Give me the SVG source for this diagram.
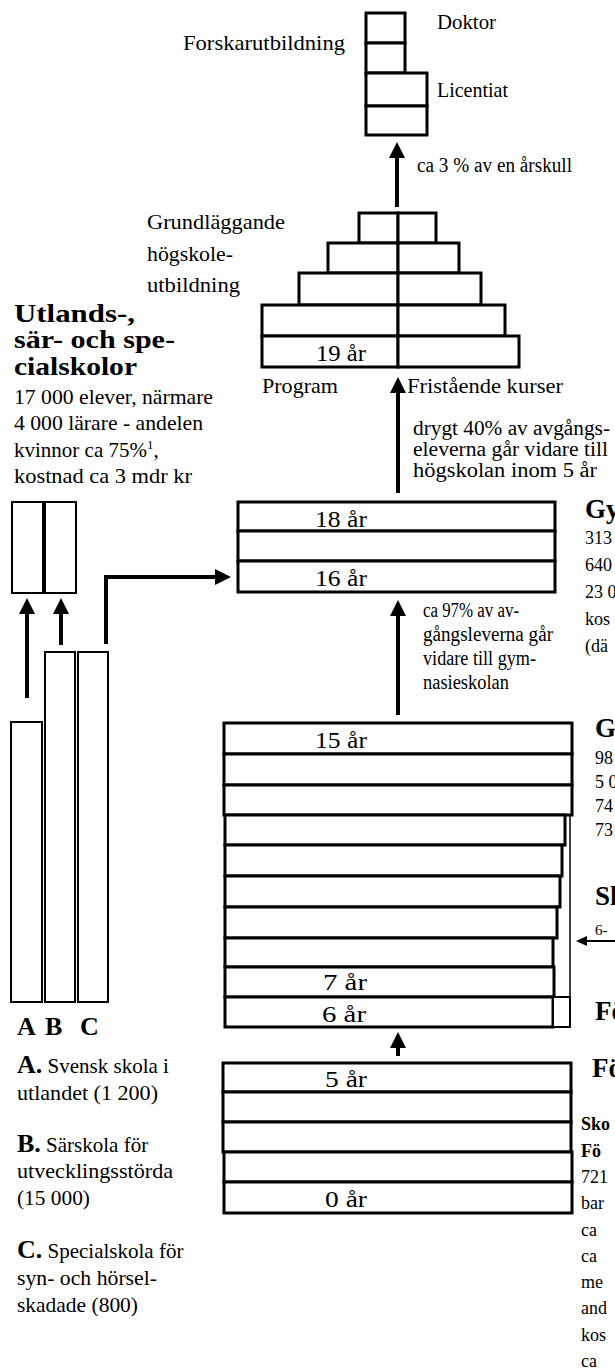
<svg xmlns="http://www.w3.org/2000/svg" width="615" height="1371" viewBox="0 0 615 1371">
<style>
text{font-family:"Liberation Serif","Times New Roman",serif;fill:#000}
rect{fill:#fff;stroke:#000;stroke-width:3}
rect.thin{stroke-width:2}
.lbl{font-size:22px}
.body{font-size:21px}
.sm{font-size:20px}
.age{font-size:23px}
.h{font-size:26px;font-weight:bold}
.rh{font-size:27px;font-weight:bold}
.rt{font-size:18px}
.rb{font-size:18px;font-weight:bold}
.lg{font-size:26px;font-weight:bold}
.arr{stroke:#000;stroke-width:4;fill:none}
.arrt{stroke:#000;stroke-width:2;fill:none}
</style>
<defs>
<marker id="ah" markerUnits="userSpaceOnUse" markerWidth="16" markerHeight="16" viewBox="0 0 16 16" refX="6" refY="8" orient="auto"><path d="M0,0L16,8L0,16z" fill="#000"/></marker>
<marker id="ahs" markerUnits="userSpaceOnUse" markerWidth="11" markerHeight="10" viewBox="0 0 11 10" refX="3" refY="5" orient="auto"><path d="M0,0L11,5L0,10z" fill="#000"/></marker>
</defs>

<g id="forskarutbildning">
<rect x="366" y="13" width="39" height="30"/>
<rect x="366" y="43" width="39" height="30"/>
<rect x="366" y="73" width="61" height="33"/>
<rect x="366" y="106" width="61" height="29"/>
<text class="lbl" x="437" y="29" textLength="59" lengthAdjust="spacingAndGlyphs">Doktor</text>
<text class="lbl" x="183" y="50" textLength="162" lengthAdjust="spacingAndGlyphs">Forskarutbildning</text>
<text class="lbl" x="437" y="97" textLength="71" lengthAdjust="spacingAndGlyphs">Licentiat</text>
</g>

<g id="hogskola">
<rect x="359" y="213" width="39" height="30"/>
<rect x="398" y="213" width="38" height="30"/>
<rect x="328" y="243" width="70" height="30"/>
<rect x="398" y="243" width="61" height="30"/>
<rect x="299" y="273" width="99" height="32"/>
<rect x="398" y="273" width="83" height="32"/>
<rect x="262" y="305" width="136" height="31"/>
<rect x="398" y="305" width="107" height="31"/>
<rect x="262" y="336" width="136" height="31"/>
<rect x="398" y="336" width="121" height="31"/>
<text class="age" x="316" y="361" textLength="50" lengthAdjust="spacingAndGlyphs">19 år</text>
<text class="lbl" x="147" y="229" textLength="138" lengthAdjust="spacingAndGlyphs">Grundläggande</text>
<text class="lbl" x="147" y="261" textLength="86" lengthAdjust="spacingAndGlyphs">högskole-</text>
<text class="lbl" x="147" y="292" textLength="93" lengthAdjust="spacingAndGlyphs">utbildning</text>
<text class="lbl" x="262" y="393" textLength="76" lengthAdjust="spacingAndGlyphs">Program</text>
<text class="lbl" x="407" y="393" textLength="156" lengthAdjust="spacingAndGlyphs">Fristående kurser</text>
</g>

<g id="gymnasieskola">
<rect x="238" y="502" width="317" height="29"/>
<rect x="238" y="531" width="317" height="30"/>
<rect x="238" y="561" width="317" height="31"/>
<text class="age" x="315" y="527" textLength="52" lengthAdjust="spacingAndGlyphs">18 år</text>
<text class="age" x="315" y="586" textLength="52" lengthAdjust="spacingAndGlyphs">16 år</text>
<text class="rh" x="585" y="518">Gy</text>
<text class="rt" x="585" y="544">313</text>
<text class="rt" x="585" y="571">640</text>
<text class="rt" x="585" y="598">23 0</text>
<text class="rt" x="585" y="625">kos</text>
<text class="rt" x="585" y="652">(dä</text>
</g>

<g id="grundskola">
<rect x="224" y="723" width="348" height="31"/>
<rect x="224" y="754" width="348" height="31"/>
<rect x="224" y="785" width="348" height="30"/>
<rect x="225" y="815" width="340" height="30"/>
<rect x="225" y="845" width="337" height="31"/>
<rect x="225" y="876" width="335" height="31"/>
<rect x="225" y="907" width="332" height="31"/>
<rect x="225" y="938" width="328" height="29"/>
<rect x="225" y="967" width="329" height="30"/>
<rect x="225" y="997" width="328" height="30"/>
<text class="age" x="315" y="748" textLength="52" lengthAdjust="spacingAndGlyphs">15 år</text>
<text class="age" x="323" y="990" textLength="44" lengthAdjust="spacingAndGlyphs">7 år</text>
<text class="age" x="322" y="1022" textLength="44" lengthAdjust="spacingAndGlyphs">6 år</text>
<text class="rh" x="595" y="737">G</text>
<text class="rt" x="595" y="764">98</text>
<text class="rt" x="595" y="788">5 0</text>
<text class="rt" x="595" y="812">74</text>
<text class="rt" x="595" y="836">73</text>
</g>

<g id="skolbarnsomsorg">
<line x1="570" y1="815" x2="570" y2="997" stroke="#000" stroke-width="1.5"/>
<text class="rh" x="595" y="905">Sk</text>
<text x="595" y="935" style="font-size:15px">6-</text>
</g>

<g id="forskoleklass">
<rect class="thin" x="553" y="997" width="17" height="30"/>
<text class="rh" x="595" y="1020">Fö</text>
</g>

<g id="forskola">
<rect x="223" y="1063" width="348" height="29"/>
<rect x="223" y="1092" width="348" height="30"/>
<rect x="223" y="1122" width="348" height="30"/>
<rect x="224" y="1152" width="348" height="30"/>
<rect x="224" y="1182" width="348" height="31"/>
<text class="age" x="325" y="1087" textLength="42" lengthAdjust="spacingAndGlyphs">5 år</text>
<text class="age" x="325" y="1207" textLength="42" lengthAdjust="spacingAndGlyphs">0 år</text>
<text class="rh" x="592" y="1077">Fö</text>
<text class="rb" x="581" y="1130">Sko</text>
<text class="rb" x="581" y="1157">Fö</text>
<text class="rt" x="581" y="1183">721</text>
<text class="rt" x="581" y="1209">bar</text>
<text class="rt" x="581" y="1236">ca</text>
<text class="rt" x="581" y="1262">ca</text>
<text class="rt" x="581" y="1288">me</text>
<text class="rt" x="581" y="1314">and</text>
<text class="rt" x="581" y="1341">kos</text>
<text class="rt" x="581" y="1367">ca</text>
</g>

<g id="utlands-sar-specialskolor">
<text class="h" x="14" y="322" textLength="121" lengthAdjust="spacingAndGlyphs">Utlands-,</text>
<text class="h" x="14" y="348" textLength="161" lengthAdjust="spacingAndGlyphs">sär- och spe-</text>
<text class="h" x="14" y="375" textLength="123" lengthAdjust="spacingAndGlyphs">cialskolor</text>
<text class="body" x="14" y="404" textLength="199" lengthAdjust="spacingAndGlyphs">17 000 elever, närmare</text>
<text class="body" x="14" y="430" textLength="189" lengthAdjust="spacingAndGlyphs">4 000 lärare - andelen</text>
<text class="body" x="14" y="457">kvinnor ca 75%<tspan style="font-size:13px" dy="-8">1</tspan><tspan dy="8">,</tspan></text>
<text class="body" x="14" y="483" textLength="178" lengthAdjust="spacingAndGlyphs">kostnad ca 3 mdr kr</text>
<rect class="thin" x="12" y="502" width="64" height="91"/>
<line x1="44" y1="502" x2="44" y2="593" stroke="#000" stroke-width="4"/>
</g>

<g id="bar-a"><rect class="thin" x="11" y="722" width="31" height="280"/><text class="lg" x="17" y="1035">A</text></g>
<g id="bar-b"><rect class="thin" x="45" y="652" width="30" height="350"/><text class="lg" x="45" y="1035">B</text></g>
<g id="bar-c"><rect class="thin" x="78" y="652" width="30" height="350"/><text class="lg" x="80" y="1035">C</text></g>

<g id="legend">
<text class="body" x="17" y="1073"><tspan class="lg">A.</tspan> Svensk skola i</text>
<text class="body" x="17" y="1100" textLength="141" lengthAdjust="spacingAndGlyphs">utlandet (1 200)</text>
<text class="body" x="17" y="1152"><tspan class="lg">B.</tspan> Särskola för</text>
<text class="body" x="17" y="1178" textLength="156" lengthAdjust="spacingAndGlyphs">utvecklingsstörda</text>
<text class="body" x="17" y="1205" textLength="73" lengthAdjust="spacingAndGlyphs">(15 000)</text>
<text class="body" x="17" y="1258"><tspan class="lg">C.</tspan> Specialskola för</text>
<text class="body" x="17" y="1285" textLength="140" lengthAdjust="spacingAndGlyphs">syn- och hörsel-</text>
<text class="body" x="17" y="1312" textLength="121" lengthAdjust="spacingAndGlyphs">skadade (800)</text>
</g>

<g id="connectors">
<line class="arr" x1="397" y1="207" x2="397" y2="152" marker-end="url(#ah)"/>
<text class="sm" x="417" y="172" textLength="155" lengthAdjust="spacingAndGlyphs">ca 3 % av en årskull</text>
<line class="arr" x1="398" y1="493" x2="398" y2="387" marker-end="url(#ah)"/>
<text class="sm" x="413" y="435" textLength="197" lengthAdjust="spacingAndGlyphs">drygt 40% av avgångs-</text>
<text class="sm" x="413" y="456" textLength="195" lengthAdjust="spacingAndGlyphs">eleverna går vidare till</text>
<text class="sm" x="413" y="477" textLength="184" lengthAdjust="spacingAndGlyphs">högskolan inom 5 år</text>
<line class="arr" x1="398" y1="715" x2="398" y2="610" marker-end="url(#ah)"/>
<text class="sm" x="423" y="617" textLength="96" lengthAdjust="spacingAndGlyphs">ca 97% av av-</text>
<text class="sm" x="423" y="641" textLength="130" lengthAdjust="spacingAndGlyphs">gångsleverna går</text>
<text class="sm" x="423" y="665" textLength="113" lengthAdjust="spacingAndGlyphs">vidare till gym-</text>
<text class="sm" x="423" y="689" textLength="86" lengthAdjust="spacingAndGlyphs">nasieskolan</text>
<line class="arr" x1="398" y1="1056" x2="398" y2="1042" marker-end="url(#ah)"/>
<line class="arr" x1="27" y1="698" x2="27" y2="608" marker-end="url(#ah)"/>
<line class="arr" x1="61" y1="645" x2="61" y2="608" marker-end="url(#ah)"/>
<polyline class="arr" points="106,644 106,577 221,577" marker-end="url(#ah)"/>
<line class="arrt" x1="620" y1="941" x2="584" y2="941" marker-end="url(#ahs)"/>
</g>
</svg>
